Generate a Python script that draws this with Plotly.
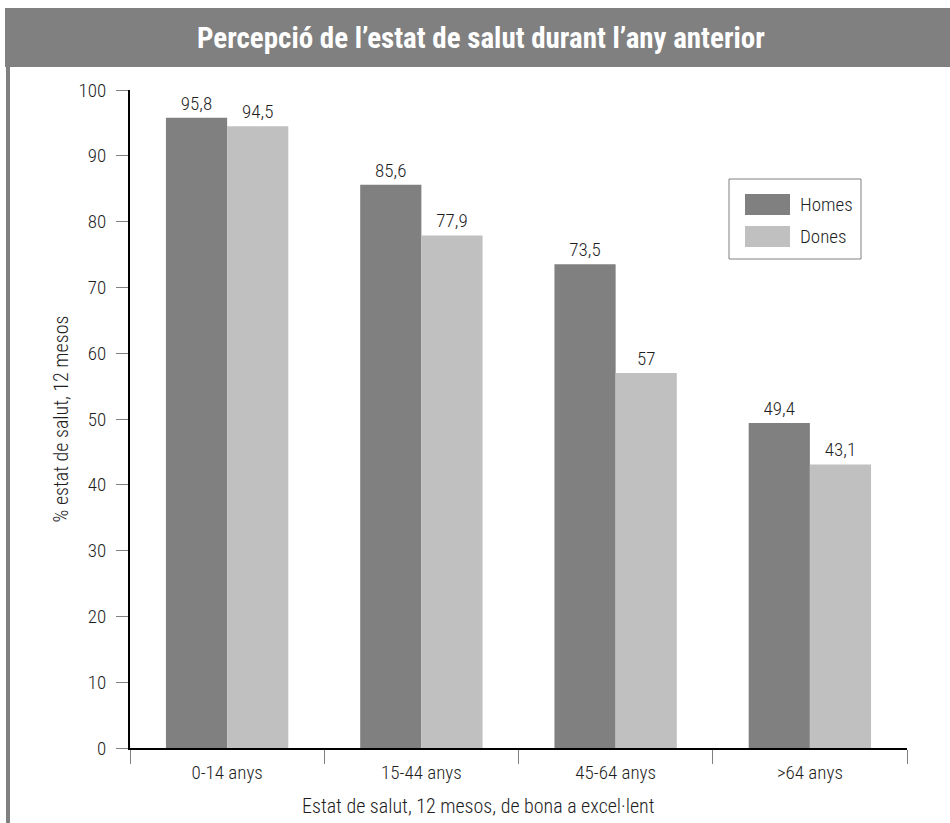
import plotly.graph_objects as go

# Self-rated health by age group and sex
categories = ["0-14 anys", "15-44 anys", "45-64 anys", ">64 anys"]
homes = [95.8, 85.6, 73.5, 49.4]
dones = [94.5, 77.9, 57, 43.1]
series_names = ["Homes", "Dones"]
colors = ["#808080", "#c0c0c0"]
y_ticks = [0, 10, 20, 30, 40, 50, 60, 70, 80, 90, 100]

title_text = "Percepció de l’estat de salut durant l’any anterior"
x_title = "Estat de salut, 12 mesos, de bona a excel·lent"
y_title = "% estat de salut, 12 mesos"

FONT = "Liberation Sans Narrow, Roboto Condensed, DejaVu Sans Condensed, sans-serif"
TXT = "#1e1e1e"
W, H = 950, 823
ML, MR, MT, MB = 130, 43, 90, 75
PW, PH = W - ML - MR, H - MT - MB


def px_x(x):
    return (x - ML) / PW


def px_y(y):
    return (H - MB - y) / PH


def label(v):
    return f"{v:g}".replace(".", ",")


def tfont(size=19, color=TXT):
    return dict(family=FONT, size=size, color=color, weight=300)


fig = go.Figure()
for name, vals, col in zip(series_names, [homes, dones], colors):
    fig.add_trace(go.Bar(
        x=categories, y=vals, name=name,
        marker=dict(color=col, line=dict(width=0)),
        text=[label(v) for v in vals], textposition="outside",
        textfont=tfont(),
        cliponaxis=False, showlegend=False,
    ))

shapes = [
    # title band
    dict(type="rect", xref="paper", yref="paper", x0=px_x(5), x1=px_x(950),
         y0=px_y(67), y1=px_y(8), fillcolor="#808080", line=dict(width=0), layer="below"),
    # left frame line
    dict(type="rect", xref="paper", yref="paper", x0=px_x(6), x1=px_x(10),
         y0=px_y(823), y1=px_y(67), fillcolor="#808080", line=dict(width=0), layer="below"),
    # legend box
    dict(type="rect", xref="paper", yref="paper", x0=px_x(729), x1=px_x(861),
         y0=px_y(259), y1=px_y(179), fillcolor="white", line=dict(color="#808080", width=1)),
]
annotations = [
    dict(text=f"<b>{title_text}</b>", xref="paper", yref="paper", x=px_x(481), y=px_y(38),
         xanchor="center", yanchor="middle", showarrow=False,
         font=dict(family=FONT, size=29, color="white")),
    # x-axis title, centred on the page
    dict(text=x_title, xref="paper", yref="paper", x=px_x(478), y=px_y(806),
         xanchor="center", yanchor="middle", showarrow=False, font=tfont(20)),
]
legend_rows = [(194, 215), (226, 247)]
for (y0, y1), name, col in zip(legend_rows, series_names, colors):
    shapes.append(dict(type="rect", xref="paper", yref="paper", x0=px_x(745), x1=px_x(790),
                       y0=px_y(y1), y1=px_y(y0), fillcolor=col, line=dict(width=0)))
    annotations.append(dict(text=name, xref="paper", yref="paper", x=px_x(798), y=px_y((y0 + y1) / 2),
                            xanchor="left", yanchor="middle", showarrow=False,
                            font=tfont()))

fig.update_layout(
    width=W, height=H,
    margin=dict(l=ML, r=MR, t=MT, b=MB),
    paper_bgcolor="white", plot_bgcolor="white",
    barmode="group", bargap=0.37, bargroupgap=0,
    separators=", ",
    font=tfont(),
    shapes=shapes, annotations=annotations,
    xaxis=dict(
        showline=True, linecolor="black", linewidth=2,
        ticks="outside", tickson="boundaries", ticklen=14, tickcolor="#808080", tickwidth=1,
        ticklabelstandoff=6,
        tickfont=tfont(),
        showgrid=False, automargin=False,
    ),
    yaxis=dict(
        range=[0, 100], tickvals=y_ticks,
        showline=True, linecolor="black", linewidth=2,
        ticks="outside", ticklen=12, tickcolor="#808080", tickwidth=1,
        ticklabelstandoff=6,
        tickfont=tfont(),
        title=dict(text=y_title, font=tfont(20), standoff=4),
        showgrid=False, zeroline=False, automargin=False,
    ),
)

fig.write_html("out.html")
